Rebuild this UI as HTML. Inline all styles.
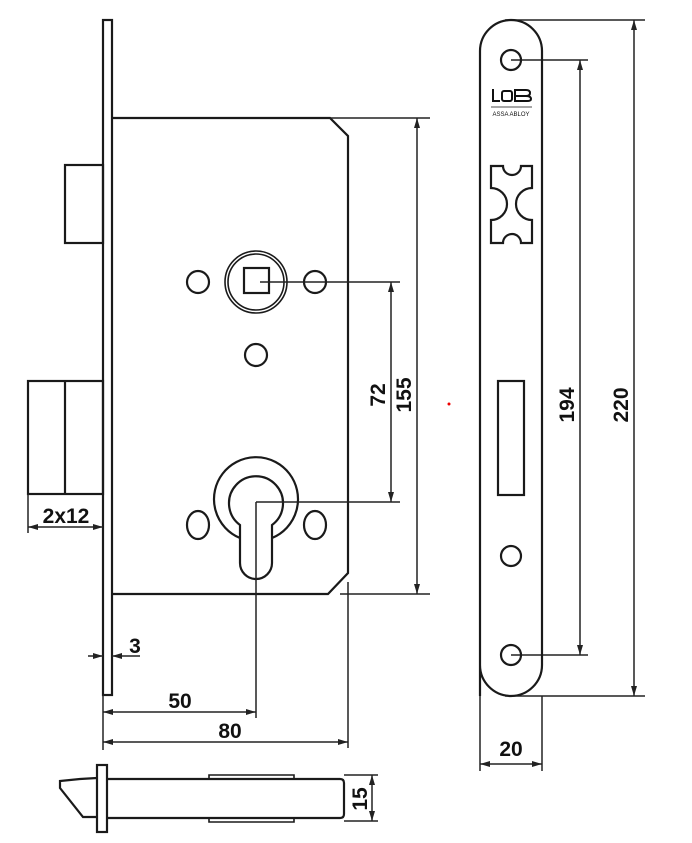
<!DOCTYPE html>
<html><head><meta charset="utf-8"><style>
html,body{margin:0;padding:0;background:#fff;}
svg{display:block}
text{font-family:"Liberation Sans",sans-serif;font-weight:bold;fill:#111;}
</style></head><body>
<svg width="692" height="843" viewBox="0 0 692 843" xmlns="http://www.w3.org/2000/svg">
<defs>
<marker id="a" viewBox="0 0 10 6" refX="10" refY="3" markerWidth="10" markerHeight="6" orient="auto-start-reverse" markerUnits="userSpaceOnUse"><path d="M0,0 L10,3 L0,6 z" fill="#222"/></marker>
</defs>
<g fill="none" stroke="#1a1a1a" stroke-width="2.2">
<rect x="103" y="20" width="9" height="675"/>
<path d="M112,118 L330,118 L348,136 L348,573 L328,594 L112,594"/>
<rect x="65" y="165" width="38" height="78"/>
<rect x="28" y="381" width="75" height="113"/>
<line x1="65" y1="381" x2="65" y2="494"/>
<circle cx="256" cy="282" r="31" stroke-width="1.6"/>
<circle cx="256" cy="282" r="28" stroke-width="1.6"/>
<rect x="244" y="268" width="25" height="25"/>
<circle cx="198" cy="282" r="11"/>
<circle cx="315" cy="282" r="11"/>
<circle cx="256" cy="355" r="11"/>
<path d="M240,538 A42,42 0 1 1 272,538"/>
<path d="M240,525 A27,27 0 1 1 272,525 L272,563 A16,16 0 0 1 240,563 Z"/>
<ellipse cx="198" cy="525" rx="11" ry="14"/>
<ellipse cx="315" cy="525" rx="11" ry="14"/>
</g>
<g fill="none" stroke="#222" stroke-width="1.5">
<line x1="260" y1="282" x2="400" y2="282"/>
<line x1="256" y1="502" x2="400" y2="502"/>
<line x1="391" y1="282" x2="391" y2="502" marker-start="url(#a)" marker-end="url(#a)"/>
<line x1="330" y1="118" x2="430" y2="118"/>
<line x1="340" y1="594" x2="430" y2="594"/>
<line x1="417" y1="118" x2="417" y2="594" marker-start="url(#a)" marker-end="url(#a)"/>
<line x1="28" y1="494" x2="28" y2="533"/>
<line x1="28" y1="527" x2="103" y2="527" marker-start="url(#a)" marker-end="url(#a)"/>
<line x1="256" y1="502" x2="256" y2="718"/>
<line x1="348" y1="582" x2="348" y2="748"/>
<line x1="103" y1="695" x2="103" y2="750"/>
<line x1="88" y1="656" x2="103" y2="656" marker-end="url(#a)"/>
<line x1="140" y1="656" x2="112" y2="656" marker-end="url(#a)"/>
<line x1="103" y1="712" x2="256" y2="712" marker-start="url(#a)" marker-end="url(#a)"/>
<line x1="103" y1="742" x2="348" y2="742" marker-start="url(#a)" marker-end="url(#a)"/>
<line x1="344" y1="775" x2="378" y2="775"/>
<line x1="344" y1="821" x2="378" y2="821"/>
<line x1="372" y1="775" x2="372" y2="821" marker-start="url(#a)" marker-end="url(#a)"/>
<line x1="511" y1="60" x2="588" y2="60"/>
<line x1="511" y1="655" x2="588" y2="655"/>
<line x1="580" y1="60" x2="580" y2="655" marker-start="url(#a)" marker-end="url(#a)"/>
<line x1="505" y1="20" x2="645" y2="20"/>
<line x1="505" y1="696" x2="645" y2="696"/>
<line x1="634" y1="20" x2="634" y2="696" marker-start="url(#a)" marker-end="url(#a)"/>
<line x1="480" y1="696" x2="480" y2="771"/>
<line x1="542" y1="696" x2="542" y2="771"/>
<line x1="480" y1="764" x2="542" y2="764" marker-start="url(#a)" marker-end="url(#a)"/>
</g>
<g fill="none" stroke="#1a1a1a" stroke-width="2.2">
<rect x="97" y="765" width="10" height="67"/>
<path d="M107,779 L340,779 Q344,779 344,783 L344,814 Q344,818 340,818 L107,818"/>
<path d="M97,778 L80,779 L60,781 L60,788 L83,817 L97,817"/>
<path d="M209,779 L209,775 L294,775 L294,779 M209,818 L209,822 L294,822 L294,818" stroke-width="1.6"/>
<path d="M480,696 L480,51 A31,31 0 0 1 542,51 L542,665 A31,31 0 0 1 480,665"/>
<circle cx="511" cy="60" r="10"/>
<circle cx="511" cy="655" r="10"/>
<circle cx="511" cy="556" r="10"/>
<rect x="498" y="381" width="26" height="114"/>
<path d="M491,166 L503,166 A9,9 0 0 0 521,166 L532,166 L532,188 A12,12 0 0 0 532,220 L532,243 L521,243 A9,9 0 0 0 503,243 L491,243 L491,220 A12,12 0 0 0 491,188 Z"/>
</g>
<g fill="none" stroke="#111" stroke-width="2">
<path d="M493,89 L493,101 L500,101"/>
<rect x="502" y="91" width="10" height="10" rx="2"/>
<path d="M515,90 L526,90 Q530,90 530,93 Q530,96 526,96 Q531,96 531,99 Q531,101 527,101 L515,101 Z M515,96 L526,96"/>
<line x1="491" y1="107" x2="532" y2="107" stroke-width="0.7"/>
</g>
<text x="511" y="116" font-size="6" text-anchor="middle" style="font-weight:normal">ASSA ABLOY</text>
<text x="66" y="523" font-size="21" text-anchor="middle">2x12</text>
<text x="135" y="653" font-size="21" text-anchor="middle">3</text>
<text x="180" y="708" font-size="21" text-anchor="middle">50</text>
<text x="230" y="738" font-size="21" text-anchor="middle">80</text>
<text x="511" y="756" font-size="21" text-anchor="middle">20</text>
<text transform="translate(385,395) rotate(-90)" font-size="21" text-anchor="middle">72</text>
<text transform="translate(411,395) rotate(-90)" font-size="21" text-anchor="middle">155</text>
<text transform="translate(574,405) rotate(-90)" font-size="21" text-anchor="middle">194</text>
<text transform="translate(628,405) rotate(-90)" font-size="21" text-anchor="middle">220</text>
<text transform="translate(367,799) rotate(-90)" font-size="21" text-anchor="middle">15</text>
<circle cx="449" cy="404" r="1.5" fill="#e00"/>
</svg>
</body></html>
